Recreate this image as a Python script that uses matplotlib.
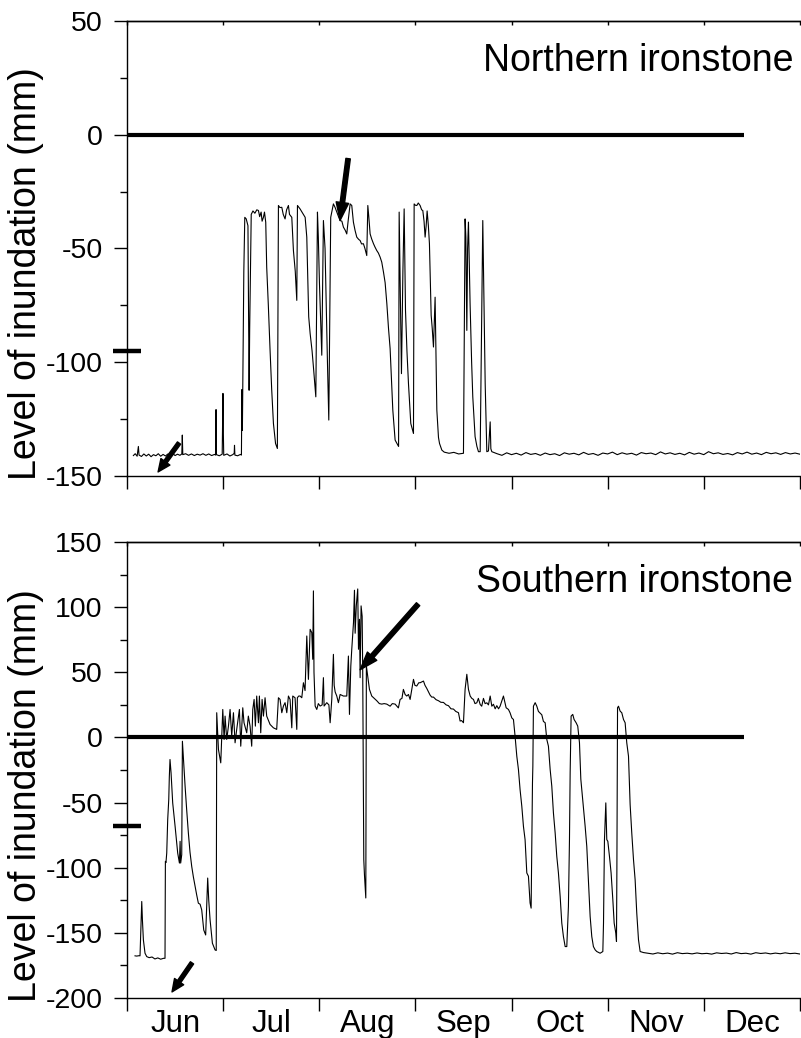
import numpy as np
import matplotlib.pyplot as plt
from matplotlib.ticker import MultipleLocator, FixedLocator, NullFormatter, FixedFormatter
import matplotlib.transforms as mtransforms

plt.rcParams['font.family'] = ['Liberation Sans', 'DejaVu Sans']
plt.rcParams['axes.unicode_minus'] = False

# x axis is "months since 1 June"
months = ['Jun', 'Jul', 'Aug', 'Sep', 'Oct', 'Nov', 'Dec']

# Northern ironstone: (month, level mm)
north = [
    (0.066, -141.0), (0.085, -140.2), (0.105, -141.3), (0.118, -137.0), (0.125, -140.8),
    (0.15, -141.4), (0.175, -140.3), (0.20, -141.2), (0.225, -140.4), (0.25, -141.5),
    (0.275, -140.6), (0.30, -141.1), (0.325, -140.2), (0.35, -141.3), (0.375, -140.5),
    (0.40, -141.2), (0.425, -140.3), (0.45, -140.9), (0.475, -140.1), (0.50, -141.0),
    (0.525, -140.4), (0.55, -140.9), (0.570, -140.3), (0.575, -132.0), (0.580, -140.6),
    (0.61, -140.2), (0.64, -140.9), (0.67, -140.3), (0.70, -141.0), (0.73, -140.4),
    (0.76, -140.8), (0.79, -140.2), (0.82, -140.9), (0.85, -140.3), (0.88, -141.0),
    (0.91, -140.5), (0.922, -140.8), (0.926, -120.8), (0.930, -140.6), (0.96, -141.1),
    (0.990, -140.4), (0.998, -113.7), (1.002, -131.0), (1.006, -140.9), (1.04, -140.3),
    (1.07, -141.2), (1.10, -140.6), (1.115, -140.0), (1.118, -136.5), (1.122, -140.8),
    (1.15, -141.1), (1.18, -140.5), (1.190, -140.8),
    (1.195, -112.0), (1.200, -130.0), (1.215, -60.0), (1.225, -36.3), (1.240, -37.0),
    (1.258, -40.0), (1.270, -112.3), (1.276, -85.0), (1.281, -70.0), (1.292, -35.0),
    (1.31, -33.5), (1.33, -34.5), (1.35, -33.0), (1.367, -33.3), (1.38, -36.0),
    (1.395, -34.0), (1.405, -38.0), (1.419, -36.3), (1.43, -34.0), (1.443, -38.5),
    (1.453, -58.2), (1.47, -75.0), (1.488, -94.7), (1.505, -112.0), (1.523, -126.9),
    (1.545, -135.7), (1.564, -137.9), (1.575, -31.1), (1.59, -32.0), (1.610, -31.9),
    (1.625, -35.0), (1.644, -37.0), (1.66, -33.0), (1.679, -31.1), (1.69, -35.0),
    (1.714, -36.3), (1.731, -50.9), (1.75, -60.0), (1.766, -72.8), (1.773, -31.1),
    (1.80, -32.6), (1.82, -34.0), (1.853, -36.3), (1.870, -45.0), (1.89, -80.0),
    (1.905, -87.4), (1.925, -95.0), (1.939, -102.0), (1.964, -115.2), (1.981, -34.0),
    (1.99, -45.0), (2.002, -65.5), (2.026, -96.9), (2.043, -37.7), (2.06, -50.0),
    (2.071, -72.8), (2.085, -100.0), (2.099, -125.4), (2.119, -36.3), (2.147, -30.4),
    (2.165, -32.0), (2.182, -34.0), (2.20, -36.0), (2.217, -37.7), (2.235, -38.0),
    (2.251, -40.6), (2.27, -42.0), (2.286, -43.6), (2.30, -38.0), (2.321, -30.4),
    (2.338, -31.1), (2.355, -38.4), (2.372, -42.0), (2.390, -45.0), (2.41, -46.0),
    (2.425, -46.5), (2.44, -48.0), (2.459, -47.9), (2.475, -50.0), (2.494, -53.1),
    (2.505, -31.1), (2.515, -36.0), (2.529, -43.6), (2.545, -45.8), (2.564, -47.9),
    (2.58, -49.4), (2.598, -50.9), (2.615, -52.0), (2.633, -53.8), (2.650, -56.0),
    (2.668, -60.4), (2.685, -65.0), (2.703, -74.3), (2.72, -85.0), (2.737, -94.0),
    (2.765, -121.0), (2.789, -134.2), (2.817, -136.4), (2.825, -137.0), (2.831, -34.0),
    (2.843, -70.0), (2.855, -105.0), (2.870, -60.0), (2.883, -32.6), (2.897, -77.2),
    (2.912, -95.0), (2.928, -109.4), (2.952, -126.9), (2.980, -131.3), (2.987, -30.4),
    (3.000, -31.0), (3.015, -31.1), (3.03, -30.0), (3.049, -31.1), (3.065, -33.0),
    (3.077, -33.3), (3.090, -38.0), (3.101, -45.0), (3.112, -40.0), (3.122, -33.5),
    (3.135, -40.0), (3.146, -47.9), (3.164, -79.4), (3.175, -85.0), (3.188, -93.3),
    (3.205, -71.4), (3.215, -100.0), (3.223, -121.0), (3.24, -133.0), (3.251, -135.7),
    (3.275, -138.6), (3.30, -139.5), (3.35, -140.0), (3.40, -139.6), (3.45, -140.3),
    (3.50, -140.0), (3.517, -37.0), (3.525, -45.0), (3.535, -86.0), (3.543, -50.0),
    (3.552, -38.4), (3.569, -74.3), (3.585, -100.0), (3.597, -115.2), (3.610, -125.0),
    (3.621, -132.7), (3.640, -137.0), (3.656, -139.3), (3.674, -139.3), (3.701, -37.7),
    (3.726, -109.4), (3.743, -139.3), (3.760, -139.0), (3.778, -126.2), (3.785, -138.0),
    (3.795, -139.3),
]
# flat readings after the last flood, Sep 25 to Dec 31
north_tail = [
    -140.2, -140.9, -139.8, -140.6, -140.0, -140.8, -139.7, -140.5, -140.1, -140.9,
    -139.9, -140.6, -140.2, -141.0, -139.8, -140.4, -140.0, -140.7, -139.6, -140.5,
    -140.1, -140.9, -139.9, -140.3, -139.5, -140.6, -139.8, -140.4, -140.0, -140.8,
    -139.7, -140.2, -139.9, -140.6, -139.4, -140.3, -139.8, -140.5, -140.0, -140.7,
    -139.6, -140.4, -139.9, -140.6, -139.3, -140.2, -139.8, -140.5, -140.1, -140.7,
    -139.7, -140.3, -139.5, -140.4, -139.9, -140.6, -139.6, -140.2, -139.8, -140.5,
    -139.7, -140.3, -139.9, -140.4,
]

# Southern ironstone
south = [
    (0.083, -167.6), (0.10, -167.8), (0.125, -167.5), (0.135, -167.6), (0.153, -125.9),
    (0.160, -140.0), (0.170, -155.3), (0.187, -165.6), (0.205, -168.2), (0.23, -169.0),
    (0.26, -168.5), (0.29, -170.0), (0.32, -169.2), (0.35, -170.2), (0.38, -169.5),
    (0.395, -169.5), (0.399, -95.1), (0.405, -96.0), (0.413, -88.7), (0.423, -63.1),
    (0.434, -47.7), (0.440, -30.0), (0.447, -16.9), (0.458, -27.2), (0.475, -50.2),
    (0.500, -68.2), (0.515, -80.0), (0.527, -88.7), (0.545, -96.4), (0.552, -79.7),
    (0.558, -96.4), (0.569, -90.0), (0.576, -2.9), (0.590, -20.0), (0.604, -37.4),
    (0.620, -55.0), (0.638, -73.3), (0.655, -88.0), (0.673, -99.0), (0.690, -107.0),
    (0.708, -114.4), (0.725, -121.0), (0.742, -127.2), (0.760, -128.0), (0.777, -132.4),
    (0.798, -147.8), (0.818, -151.6), (0.839, -107.9), (0.850, -125.0), (0.864, -140.0),
    (0.888, -157.9), (0.916, -163.1), (0.928, -163.5),
    (0.933, 19.0), (0.951, -9.2), (0.975, -19.5), (0.996, 21.5), (1.010, -1.5),
    (1.020, 16.4), (1.037, -1.5), (1.055, 8.7), (1.072, 21.5), (1.089, 1.0),
    (1.107, 19.0), (1.124, -4.1), (1.141, 6.2), (1.169, 21.5), (1.183, -6.7),
    (1.204, 22.8), (1.217, 11.3), (1.245, 3.6), (1.262, 16.4), (1.280, 8.7),
    (1.297, -6.7), (1.308, 21.5), (1.322, 29.2), (1.335, 8.7), (1.349, 31.8),
    (1.367, 11.3), (1.377, 31.8), (1.391, 3.6), (1.405, 29.2), (1.419, 16.4),
    (1.436, 30.5), (1.453, 16.4), (1.488, 10.0), (1.523, 7.4), (1.557, 6.2),
    (1.575, 30.5), (1.592, 29.2), (1.610, 19.0), (1.627, 24.1), (1.644, 26.7),
    (1.662, 19.0), (1.679, 31.8), (1.696, 29.2), (1.714, 7.4), (1.724, 31.8),
    (1.748, 30.5), (1.766, 6.2), (1.772, 30.5), (1.786, 31.8), (1.800, 31.8),
    (1.818, 30.5), (1.835, 42.0), (1.852, 36.0), (1.870, 77.9), (1.887, 44.6),
    (1.905, 83.0), (1.922, 80.5), (1.932, 60.0), (1.939, 112.5), (1.945, 50.0),
    (1.957, 24.1), (1.974, 21.5), (1.990, 26.0), (2.009, 24.1), (2.030, 25.0),
    (2.043, 45.9), (2.050, 24.1), (2.078, 26.7), (2.100, 25.0), (2.113, 11.3),
    (2.130, 29.2), (2.147, 63.8), (2.155, 40.0), (2.165, 35.0), (2.182, 31.8),
    (2.199, 26.7), (2.217, 33.0), (2.251, 31.8), (2.286, 31.8), (2.303, 62.5),
    (2.314, 17.7), (2.328, 54.8), (2.338, 67.7), (2.356, 88.2), (2.366, 113.0),
    (2.373, 80.0), (2.385, 101.0), (2.400, 114.0), (2.408, 67.7), (2.418, 90.7),
    (2.425, 45.9), (2.435, 101.0), (2.446, 93.0), (2.452, 50.0), (2.456, 1.0),
    (2.463, -93.8), (2.470, -105.4), (2.484, -123.2), (2.490, 54.8), (2.512, 42.2),
    (2.522, 36.9), (2.546, 31.8), (2.572, 30.0), (2.598, 28.2), (2.625, 26.0),
    (2.650, 25.6), (2.675, 26.0), (2.702, 25.6), (2.737, 24.0), (2.760, 26.0),
    (2.789, 25.6), (2.823, 22.7), (2.841, 29.2), (2.860, 30.0), (2.875, 36.9),
    (2.893, 33.0), (2.910, 31.8), (2.928, 33.0), (2.945, 29.2), (2.980, 44.6),
    (2.995, 40.0), (3.014, 39.5), (3.035, 42.0), (3.049, 42.0), (3.084, 43.3),
    (3.100, 40.0), (3.118, 37.7), (3.153, 32.5), (3.170, 31.0), (3.188, 31.0),
    (3.215, 29.0), (3.240, 28.2), (3.265, 27.0), (3.292, 26.9), (3.320, 25.0),
    (3.344, 24.4), (3.370, 22.0), (3.396, 21.8), (3.420, 20.0), (3.448, 19.0),
    (3.465, 12.6), (3.480, 13.0), (3.500, 11.3), (3.517, 36.9), (3.535, 48.5),
    (3.552, 36.9), (3.570, 31.8), (3.587, 30.0), (3.604, 29.2), (3.620, 26.0),
    (3.639, 26.6), (3.655, 30.0), (3.674, 25.3), (3.690, 24.0), (3.708, 30.0),
    (3.725, 26.0), (3.743, 26.6), (3.760, 25.0), (3.778, 31.8), (3.795, 24.0),
    (3.812, 25.5), (3.830, 22.0), (3.847, 24.4), (3.865, 22.0),
    (3.881, 24.0), (3.916, 31.8), (3.944, 22.8), (3.968, 21.5), (3.985, 18.9),
    (4.003, 15.0), (4.020, 13.8), (4.037, 1.0), (4.055, -14.4), (4.072, -24.6),
    (4.089, -40.0), (4.107, -52.8), (4.124, -68.2), (4.141, -78.4), (4.159, -104.0),
    (4.176, -106.5), (4.193, -127.0), (4.204, -131.0), (4.211, -80.0), (4.218, -34.9),
    (4.222, -22.0), (4.228, 24.0), (4.246, 26.7), (4.263, 24.0), (4.280, 20.0),
    (4.315, 17.4), (4.332, 12.3), (4.350, 11.3), (4.367, -1.5), (4.384, -6.7),
    (4.402, -24.6), (4.419, -37.4), (4.436, -57.9), (4.454, -73.3), (4.471, -91.3),
    (4.488, -104.0), (4.506, -122.0), (4.523, -142.5), (4.540, -152.8), (4.558, -160.5),
    (4.575, -160.5), (4.592, -129.7), (4.603, -78.0), (4.610, -27.0), (4.620, 16.4),
    (4.637, 17.7), (4.651, 13.8), (4.672, 11.3), (4.689, 8.7), (4.707, -4.1),
    (4.721, -32.0), (4.741, -47.7), (4.766, -68.2), (4.783, -83.6), (4.800, -109.2),
    (4.818, -137.4), (4.835, -152.8), (4.852, -160.5), (4.870, -163.0), (4.887, -164.3),
    (4.922, -165.6), (4.950, -164.3), (4.957, -142.5), (4.967, -78.4), (4.981, -50.2),
    (4.991, -78.4), (5.002, -79.7), (5.019, -91.3), (5.036, -104.0), (5.054, -124.5),
    (5.068, -142.5), (5.085, -150.2), (5.092, -156.6), (5.096, -104.0), (5.103, 22.8),
    (5.113, 24.0), (5.130, 20.2), (5.147, 19.0), (5.165, 13.8), (5.182, 11.3),
    (5.199, -4.1), (5.217, -14.4), (5.234, -51.5), (5.251, -73.3), (5.269, -93.8),
    (5.286, -109.2), (5.303, -134.8), (5.321, -155.3), (5.338, -164.3), (5.373, -165.1),
]
south_tail = [
    -165.6, -166.2, -165.3, -166.0, -165.5, -166.3, -165.2, -165.9, -165.6, -166.1,
    -165.4, -166.0, -165.7, -166.3, -165.3, -165.8, -165.5, -166.2, -165.1, -165.9,
    -165.6, -166.3, -165.2, -165.8, -165.4, -166.1, -165.5, -166.0, -165.3, -165.9,
    -165.6, -166.2,
]

# threshold markers on the y axes and the reference arrows (data coords)
north_marker = -95
south_marker = -68
zero_end = 6.42
north_arrows = [((2.30, -10.5), (2.216, -37.7), 'big'), ((0.541, -135.5), (0.323, -148.2), 'small')]
south_arrows = [((3.028, 102.3), (2.425, 52.0), 'big'), ((0.676, -173.0), (0.468, -195.3), 'small')]

fig = plt.figure(figsize=(8.01, 10.38), dpi=100)
ax1 = fig.add_axes([0.1586, 0.5414, 0.840, 0.4384])
ax2 = fig.add_axes([0.1586, 0.0385, 0.840, 0.4393])


def draw_panel(ax, pts, tail, tail_start, marker, arrows, ylim, yticks, title, show_months):
    t = [p[0] for p in pts]
    v = [p[1] for p in pts]
    tail_t = np.linspace(tail_start, 7.0, len(tail))
    ax.plot(t + list(tail_t), v + tail, color='black', lw=0.8)
    ax.plot([0, zero_end], [0, 0], color='black', lw=3, solid_capstyle='butt')

    trans = mtransforms.blended_transform_factory(ax.transAxes, ax.transData)
    ax.plot([-0.021, 0.021], [marker, marker], color='black', lw=3.2,
            transform=trans, clip_on=False, solid_capstyle='butt')

    for tail_xy, head_xy, kind in arrows:
        if kind == 'big':
            props = dict(facecolor='black', edgecolor='black', width=3.2, headwidth=9, headlength=13, shrink=0)
        else:
            props = dict(facecolor='black', edgecolor='black', width=2.8, headwidth=8, headlength=9, shrink=0)
        ax.annotate('', xy=head_xy, xytext=tail_xy, arrowprops=props, annotation_clip=False)

    ax.set_xlim(0, 7)
    ax.set_ylim(*ylim)
    ax.set_yticks(yticks)
    ax.yaxis.set_minor_locator(MultipleLocator(25))
    ax.xaxis.set_major_locator(FixedLocator(range(8)))
    ax.xaxis.set_major_formatter(NullFormatter())
    if show_months:
        ax.xaxis.set_minor_locator(FixedLocator([i + 0.5 for i in range(7)]))
        ax.xaxis.set_minor_formatter(FixedFormatter(months))
    ax.tick_params(axis='y', which='major', direction='out', length=9.5, width=1.0, labelsize=20.5, pad=8)
    ax.tick_params(axis='y', which='minor', direction='out', length=5, width=1.0)
    ax.tick_params(axis='x', which='major', direction='out', length=9.5, width=1.0)
    ax.tick_params(axis='x', which='minor', length=0, labelsize=22.5, pad=8)
    ax.spines['right'].set_visible(False)
    for s in ['left', 'bottom', 'top']:
        ax.spines[s].set_linewidth(1.0)

    top = ax.secondary_xaxis('top')
    top.set_xticks(range(8))
    top.tick_params(direction='in', length=3, width=1.0, labeltop=False)
    top.spines['top'].set_linewidth(1.0)

    ax.set_ylabel('Level of inundation (mm)', fontsize=27)
    ax.yaxis.set_label_coords(-0.124, 0.444)
    ax.text(0.99, 0.912, title, transform=ax.transAxes, ha='right', va='center', fontsize=27)


draw_panel(ax1, north, north_tail, 3.85, north_marker, north_arrows,
           (-150, 50), [-150, -100, -50, 0, 50], 'Northern ironstone', False)
draw_panel(ax2, south, south_tail, 5.42, south_marker, south_arrows,
           (-200, 150), [-200, -150, -100, -50, 0, 50, 100, 150], 'Southern ironstone', True)

fig.savefig('out.png', dpi=100)
